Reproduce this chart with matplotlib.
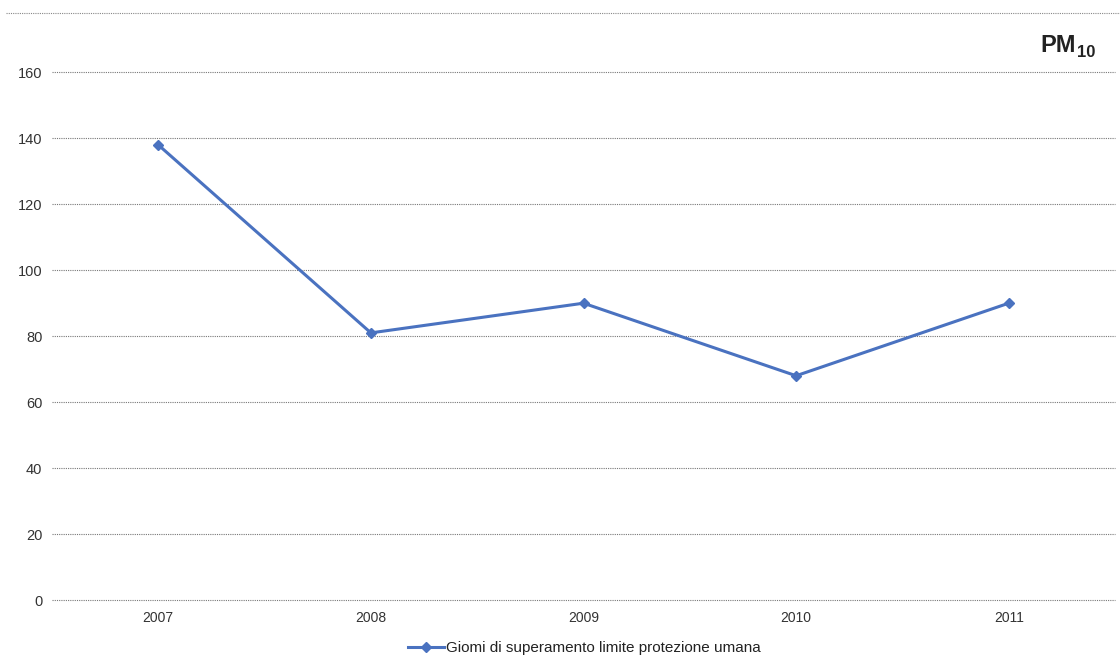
import matplotlib.pyplot as plt
from matplotlib.lines import Line2D

plt.rcParams['font.family'] = ['Liberation Sans', 'DejaVu Sans']

years = ['2007', '2008', '2009', '2010', '2011']
giorni = [138, 81, 90, 68, 90]
yticks = [0, 20, 40, 60, 80, 100, 120, 140, 160]
series_label = 'Giomi di superamento limite protezione umana'

line_color = '#4a72c0'

fig = plt.figure(figsize=(11.2, 6.64), dpi=100)
ax = fig.add_axes([52 / 1120, 1 - 600 / 664, 1063 / 1120, 587 / 664])

x = range(len(years))
ax.plot(x, giorni, color=line_color, linewidth=2.2, marker='D', markersize=5,
        label=series_label)

ax.set_xlim(-0.5, len(years) - 0.5)
ax.set_ylim(0, 178)
ax.set_yticks(yticks)
ax.set_xticks(list(x))
ax.set_xticklabels(years)
ax.tick_params(axis='both', length=0, colors='#333333')
ax.tick_params(axis='y', pad=7, labelsize=10.5)
ax.tick_params(axis='x', pad=8, labelsize=10)

ax.grid(axis='y', linestyle=(0, (1, 1)), color='#777777', linewidth=0.8)
for gl in ax.get_ygridlines():
    gl.set_clip_on(False)
ax.set_axisbelow(True)
for s in ax.spines.values():
    s.set_visible(False)

# dotted frame line on top
fig.add_artist(Line2D([0.005, 1.0], [1 - 13 / 664] * 2, transform=fig.transFigure,
                      linestyle=(0, (1, 1)), color='#888888', linewidth=0.8))

fig.text(1076 / 1120, 1 - 52 / 664, 'PM', fontsize=17, fontweight='bold',
         ha='right', va='baseline', color='#222222')
fig.text(1077 / 1120, 1 - 57 / 664, '10', fontsize=12, fontweight='bold',
         ha='left', va='baseline', color='#222222')

leg = fig.legend(loc='center', bbox_to_anchor=(584 / 1120, 1 - 648 / 664),
                 frameon=False, fontsize=11, handlelength=2.4, handletextpad=0.1)
for t in leg.get_texts():
    t.set_color('#222222')

fig.savefig('out.png', dpi=100)
